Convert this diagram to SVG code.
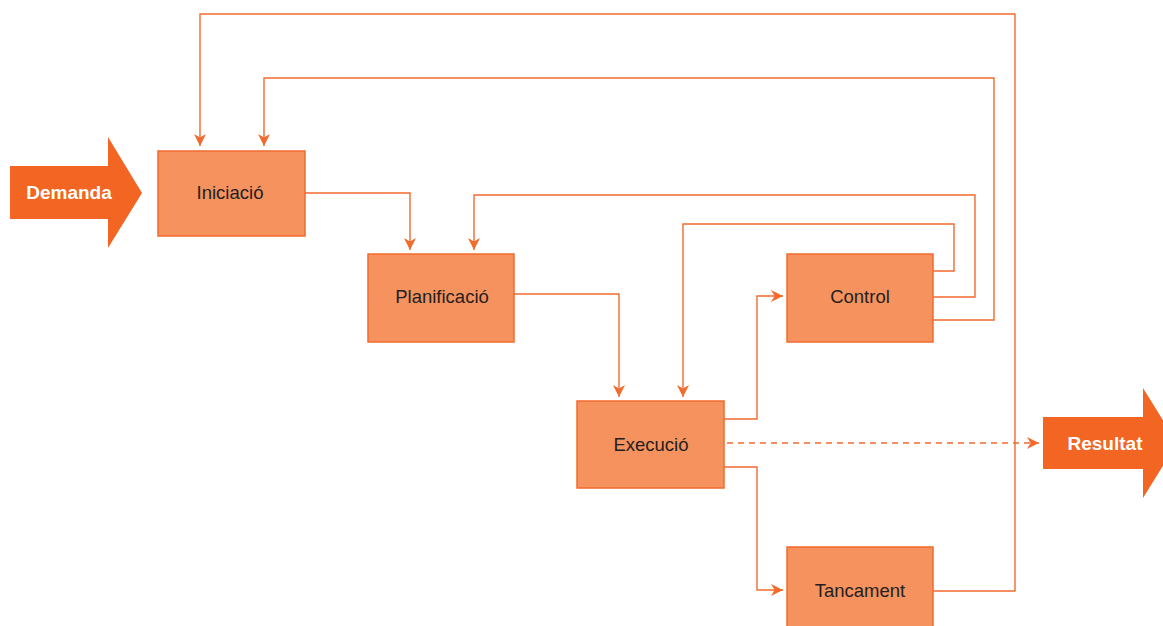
<svg xmlns="http://www.w3.org/2000/svg" width="1163" height="626" viewBox="0 0 1163 626">
<defs>
<marker id="ah" viewBox="0 0 10 10" refX="10" refY="5" markerWidth="12" markerHeight="12" markerUnits="userSpaceOnUse" orient="auto">
<path d="M0,0 L10,5 L0,10 L3,5 z" fill="#F26A2C"/>
</marker>
<style>
.box{fill:#F5925E;stroke:#F26A2C;stroke-width:1.5}
.lbl{font-family:"Liberation Sans",Arial,sans-serif;font-size:18.5px;fill:#231F20;text-anchor:middle}
.big{fill:#F26522}
.blbl{font-family:"Liberation Sans",Arial,sans-serif;font-size:19px;font-weight:bold;fill:#FFFFFF;text-anchor:middle}
.c{fill:none;stroke:#F26A2C;stroke-width:1.4}
</style>
</defs>
<rect width="1163" height="626" fill="#FFFFFF"/>
<g id="connectors">
<path class="c" d="M933,591 H1015 V14 H200 V146" marker-end="url(#ah)"/>
<path class="c" d="M933,320 H994 V78 H264 V146" marker-end="url(#ah)"/>
<path class="c" d="M305,193 H410 V250" marker-end="url(#ah)"/>
<path class="c" d="M933,297 H975 V195 H474 V250" marker-end="url(#ah)"/>
<path class="c" d="M514,294 H619 V397" marker-end="url(#ah)"/>
<path class="c" d="M933,271 H954 V224 H683 V397" marker-end="url(#ah)"/>
<path class="c" d="M724,419 H757 V296 H783" marker-end="url(#ah)"/>
<path class="c" d="M724,467 H757 V590 H783" marker-end="url(#ah)"/>
<path class="c" d="M727,443 H1039" stroke-dasharray="6,5" marker-end="url(#ah)"/>
</g>
<g id="demanda">
<path class="big" d="M10,166 H108 V137 L142,193 L108,248 V219 H10 z"/>
<text class="blbl" x="69" y="199">Demanda</text>
</g>
<g id="iniciacio">
<rect class="box" x="158" y="151" width="147" height="85"/>
<text class="lbl" x="230" y="199">Iniciació</text>
</g>
<g id="planificacio">
<rect class="box" x="368" y="254" width="146" height="88"/>
<text class="lbl" x="442" y="303">Planificació</text>
</g>
<g id="execucio">
<rect class="box" x="577" y="401" width="147" height="87"/>
<text class="lbl" x="651" y="451">Execució</text>
</g>
<g id="control">
<rect class="box" x="787" y="254" width="146" height="88"/>
<text class="lbl" x="860" y="303">Control</text>
</g>
<g id="tancament">
<rect class="box" x="787" y="547" width="146" height="90"/>
<text class="lbl" x="860" y="597">Tancament</text>
</g>
<g id="resultat">
<path class="big" d="M1043,417 H1143 V388 L1177,443 L1143,498 V469 H1043 z"/>
<text class="blbl" x="1105" y="450">Resultat</text>
</g>
</svg>
